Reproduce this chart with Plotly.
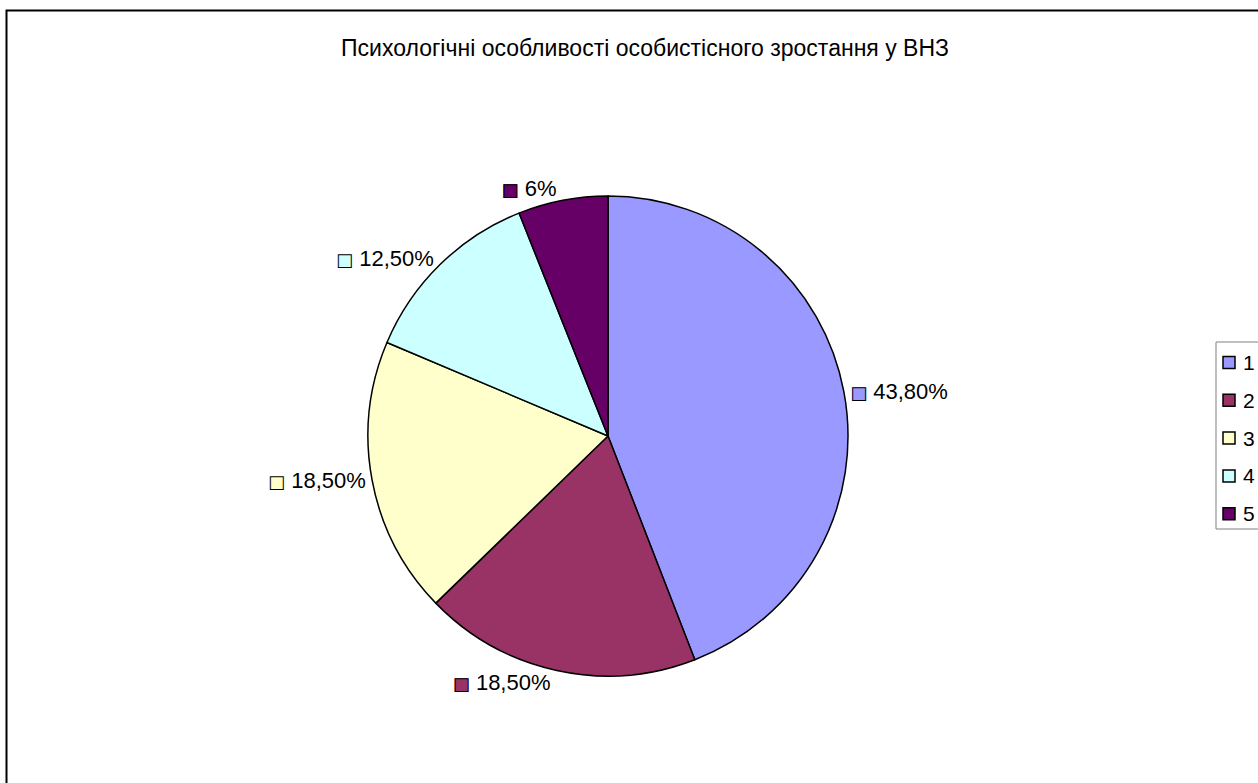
import plotly.graph_objects as go

categories = ["1", "2", "3", "4", "5"]
values = [43.8, 18.5, 18.5, 12.5, 6]
value_labels = ["43,80%", "18,50%", "18,50%", "12,50%", "6%"]
colors = ["#9999FF", "#993366", "#FFFFCC", "#CCFFFF", "#660066"]
title_text = "Психологічні особливості особистісного зростання у ВНЗ"

W, H = 1258, 783
cx, cy, r = 608, 436, 240
FONT = "Liberation Sans, Arial, sans-serif"
SQ = "font-family:DejaVu Sans;font-size:18px"

fill_texts = [f"<span style='{SQ};color:{c}'>■</span> {t}" for c, t in zip(colors, value_labels)]
edge_texts = [f"<span style='{SQ};color:black'>□</span> <span style='color:rgba(0,0,0,0)'>{t}</span>"
              for t in value_labels]

domain = dict(x=[(cx - r) / W, (cx + r) / W], y=[1 - (cy + r) / H, 1 - (cy - r) / H])

fig = go.Figure()
fig.add_trace(go.Pie(
    labels=categories, values=values, text=fill_texts, textinfo="text",
    textposition="outside", hoverinfo="label+value", sort=False,
    direction="clockwise", rotation=0,
    marker=dict(colors=colors, line=dict(color="black", width=1.5)),
    outsidetextfont=dict(family=FONT, size=22, color="black"),
    domain=domain, showlegend=False,
))
fig.add_trace(go.Pie(
    labels=categories, values=values, text=edge_texts, textinfo="text",
    textposition="outside", hoverinfo="skip", sort=False,
    direction="clockwise", rotation=0,
    marker=dict(colors=["rgba(0,0,0,0)"] * len(values), line=dict(width=0)),
    outsidetextfont=dict(family=FONT, size=22, color="black"),
    domain=domain, showlegend=False,
))

# legend drawn as layout decoration
lg_left, lg_top, lg_bottom = 1216, 342, 529
lg_y0, lg_step = 362.5, 37.8
shapes = [
    dict(type="rect", xref="paper", yref="paper",
         x0=6.5 / W, y0=-0.05, x1=1.05, y1=1 - 10.5 / H,
         line=dict(color="black", width=2), fillcolor="rgba(0,0,0,0)"),
    dict(type="rect", xref="paper", yref="paper",
         x0=lg_left / W, y0=1 - lg_bottom / H, x1=1.05, y1=1 - lg_top / H,
         line=dict(color="#808080", width=1), fillcolor="white"),
]
annotations = []
for i, (cat, col) in enumerate(zip(categories, colors)):
    yc = lg_y0 + i * lg_step
    shapes.append(dict(type="rect", xref="paper", yref="paper",
                       x0=1223 / W, x1=1235 / W, y0=1 - (yc + 6) / H, y1=1 - (yc - 6) / H,
                       line=dict(color="black", width=1.5), fillcolor=col))
    annotations.append(dict(text=cat, xref="paper", yref="paper", x=1241 / W, y=1 - yc / H,
                            xanchor="left", yanchor="middle", showarrow=False,
                            font=dict(family=FONT, size=21, color="black")))

fig.update_layout(
    width=W, height=H,
    margin=dict(l=0, r=0, t=0, b=0),
    paper_bgcolor="white", plot_bgcolor="white",
    title=dict(text=title_text, x=645 / W, y=1 - 48 / H, xanchor="center", yanchor="middle",
               font=dict(family=FONT, size=23, color="black")),
    shapes=shapes, annotations=annotations,
    showlegend=False,
)

fig.write_html("out.html", config={"displayModeBar": False},
               post_script="document.body.style.margin='0';document.body.style.overflow='hidden';")
